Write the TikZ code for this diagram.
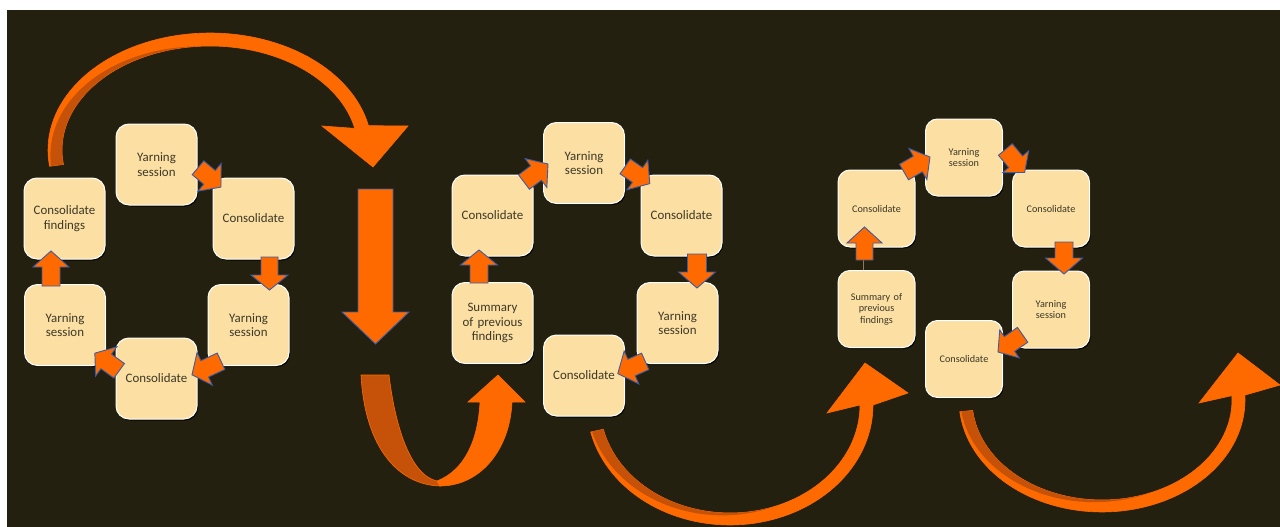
\documentclass[tikz,border=0pt]{standalone}
\usepackage{fontspec}
\setmainfont{Carlito}
\usetikzlibrary{shadows}
\definecolor{bg}{HTML}{23200F}
\definecolor{boxfill}{HTML}{FBDFA3}
\definecolor{boxtext}{HTML}{3D3826}
\definecolor{org}{HTML}{FF6A00}
\definecolor{orgdark}{HTML}{C65108}
\definecolor{arrline}{HTML}{3B5BA5}
\tikzset{
  box/.style={rounded corners=13pt, fill=boxfill, draw=white, line width=1pt,
    minimum width=81pt, minimum height=81pt, text width=74pt, align=center,
    inner sep=0pt, text=boxtext, font=\fontsize{12.9}{14.5}\selectfont,
    drop shadow={shadow xshift=1.2pt, shadow yshift=-1.5pt, fill=black, opacity=0.9}},
  smallbox/.style={box, rounded corners=12pt, minimum width=77pt, minimum height=77pt,
    text width=70pt, font=\fontsize{10.2}{11.4}\selectfont},
  blk/.style={fill=org, draw=arrline, line width=0.9pt, line join=miter},
  band/.style={fill=org, draw=org, line width=0.6pt},
  bandback/.style={fill=orgdark},
}
% x, y, angle, length, shaft half width, head half width, head length
\newcommand\blockarr[7]{%
  \begin{scope}[shift={(#1,#2)}, rotate=#3]
    \path[blk] ({-#4/2},{-#5}) -- ({#4/2-#7},{-#5}) -- ({#4/2-#7},{-#6}) -- ({#4/2},0)
      -- ({#4/2-#7},{#6}) -- ({#4/2-#7},{#5}) -- ({-#4/2},{#5}) -- cycle;
  \end{scope}}
\begin{document}
\begin{tikzpicture}[x=1pt,y=-1pt]
\useasboundingbox (0,0) rectangle (1280,527);
\fill[white] (0,0) rectangle (1280,527);
\fill[bg] (7,10) rectangle (1280,527);

% ---------- big curved arrow (top) ----------
\path[band] plot[domain=188:12,samples=70] ({210+162*cos(\x)},{150-117*sin(\x)})
  -- (408,126) -- (373,167) -- (322,126)
  -- plot[domain=12:188,samples=70] ({210+148*cos(\x)},{150-104*sin(\x)}) -- cycle;
\path[bandback] plot[domain=188:95,samples=50] ({210+148*cos(\x)},{150-104*sin(\x)})
  -- plot[domain=95:188,samples=50] ({210+(148+12.5*(\x-95)/93)*cos(\x)},{150-(104+11.5*(\x-95)/93)*sin(\x)}) -- cycle;

% ---------- big vertical arrow ----------
\blockarr{375.5}{266.5}{-90}{155}{17.5}{33.5}{32}

% ---------- U arrow ----------
\path[bandback, draw=org, line width=0.6pt] (361,375) .. controls (365,450) and (400,485) .. (440,486)
  -- (437,481) .. controls (410,475) and (395,425) .. (389,375) -- cycle;
\path[band] (440,486) .. controls (480,486) and (510,450) .. (512,402)
  -- (525,402) -- (498,375) -- (468,402) -- (480,402)
  .. controls (478,440) and (465,470) .. (437,481) -- cycle;

% ---------- bottom curved arrow 2 ----------
\path[band] plot[domain=167:0,samples=70] ({730+143*cos(\x)},{405+120*sin(\x)})
  -- (908,393) -- (865,363) -- (827,413)
  -- plot[domain=0:167,samples=70] ({730+130*cos(\x)},{405+108*sin(\x)}) -- cycle;
\path[bandback] plot[domain=167:70,samples=50] ({730+130*cos(\x)},{405+108*sin(\x)})
  -- plot[domain=70:167,samples=50] ({730+(130+11.5*(\x-70)/97)*cos(\x)},{405+(108+10.5*(\x-70)/97)*sin(\x)}) -- cycle;

% ---------- bottom curved arrow 3 ----------
\path[band] plot[domain=174:-2.5,samples=70] ({1102+143*cos(\x)},{400+112*sin(\x)})
  -- (1280,385) -- (1238,353) -- (1199,403)
  -- plot[domain=-2.5:174,samples=70] ({1102+130*cos(\x)},{400+100*sin(\x)}) -- cycle;
\path[bandback] plot[domain=174:70,samples=50] ({1102+130*cos(\x)},{400+100*sin(\x)})
  -- plot[domain=70:174,samples=50] ({1102+(130+11.5*(\x-70)/104)*cos(\x)},{400+(100+10.5*(\x-70)/104)*sin(\x)}) -- cycle;

% ---------- panel 1 ----------
\node[box] (p1cf) at (64.5,218.5) {Consolidate\\findings};
\node[box] (p1y1) at (156.5,164.5) {Yarning\\session};
\node[box] (p1c1) at (253.5,218.5) {Consolidate};
\node[box] (p1y2) at (248.5,325) {Yarning\\session};
\node[box] (p1c2) at (156.5,378.5) {Consolidate};
\node[box] (p1y3) at (65,325) {Yarning\\session};
\blockarr{209.5}{177.4}{-40}{30}{9}{18}{15}
\blockarr{269.5}{273.5}{-90}{33}{8.5}{18.5}{15}
\blockarr{206.5}{368}{205}{32}{9}{18}{14}
\blockarr{107}{362}{144}{30}{9}{18}{14}
\blockarr{51}{268.5}{90}{35}{9}{18}{16}

% ---------- panel 2 ----------
\node[box] (p2c1) at (492.5,215.5) {Consolidate};
\node[box] (p2y1) at (584,163) {Yarning\\session};
\node[box] (p2c2) at (681.5,215.5) {Consolidate};
\node[box] (p2s) at (492.5,323) {Summary\\of previous\\findings};
\node[box] (p2y2) at (677.5,323) {Yarning\\session};
\node[box] (p2c3) at (584,375.5) {Consolidate};
\blockarr{536}{173}{37}{30}{9}{18}{15}
\blockarr{637.5}{175}{-35}{30}{9}{18}{15}
\blockarr{697}{271}{-90}{34}{9.5}{18.5}{16}
\blockarr{631.5}{367.5}{204}{30}{9}{18}{15}
\blockarr{479}{266.5}{90}{33}{9}{18.5}{15}

% ---------- panel 3 ----------
\node[smallbox] (p3y1) at (964,157.5) {Yarning\\session};
\node[smallbox] (p3c1) at (876.5,208.5) {Consolidate};
\node[smallbox] (p3c2) at (1051,208.5) {Consolidate};
\node[smallbox] (p3s) at (876.5,309) {Summary of\\previous\\findings};
\node[smallbox] (p3y2) at (1051,309.5) {Yarning\\session};
\node[smallbox] (p3c3) at (964,359) {Consolidate};
\draw[color=boxtext!60!boxfill, line width=0.8pt] (p3s.north -| 863,0) -- (863,258);
\blockarr{917}{164.5}{30}{30}{9}{18}{14}
\blockarr{1015}{161}{-50}{30}{9}{17}{14}
\blockarr{1064}{258}{-90}{32}{9}{18.5}{16}
\blockarr{1010.3}{343.4}{215}{30}{9}{17}{14}
\blockarr{864.5}{243.5}{90}{33}{8.5}{17.5}{16}
\end{tikzpicture}
\end{document}
